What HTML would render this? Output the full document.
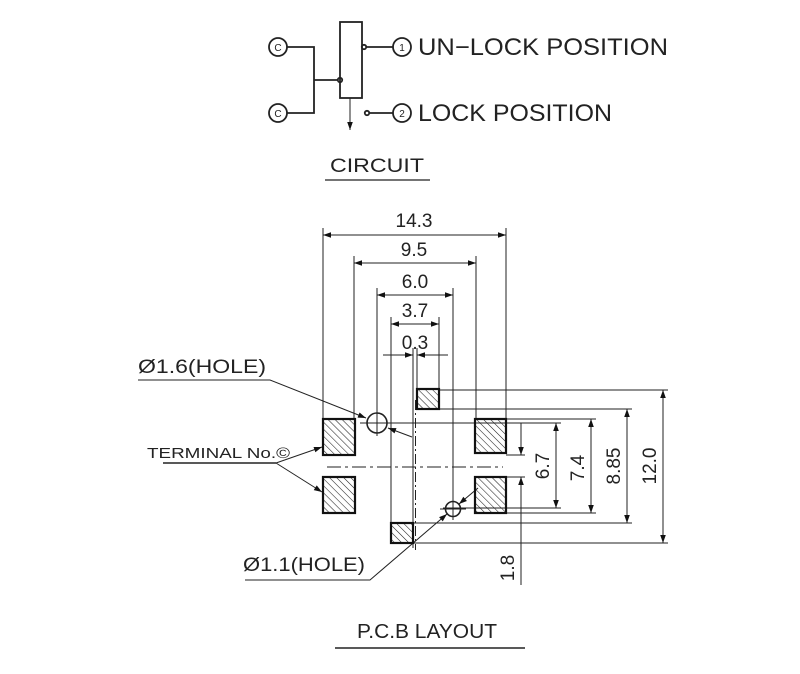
<!DOCTYPE html>
<html><head><meta charset="utf-8"><style>
html,body{margin:0;padding:0;background:#fff;}
svg{display:block;}
text{font-family:"Liberation Sans",sans-serif;fill:#222;}
</style></head><body>
<svg width="800" height="674" viewBox="0 0 800 674" xmlns="http://www.w3.org/2000/svg">
<defs>
<marker id="a" viewBox="0 0 10 10" refX="10" refY="5" markerWidth="12" markerHeight="8" markerUnits="userSpaceOnUse" orient="auto-start-reverse"><path d="M0,1.5 L10,5 L0,8.5 z" fill="#111"/></marker>
<pattern id="h" patternUnits="userSpaceOnUse" width="5" height="5" patternTransform="rotate(-45)"><line x1="0" y1="0" x2="0" y2="5" stroke="#222" stroke-width="1.1"/></pattern>
</defs>
<g stroke="#222" stroke-width="1.8" fill="none">
<!-- circuit -->
<circle cx="278" cy="47" r="9"/><circle cx="278" cy="113" r="9"/>
<polyline points="287,47 314,47 314,113 287,113"/>
<line x1="314" y1="80" x2="338" y2="80"/>
<circle cx="340" cy="80" r="2.2"/>
<rect x="340" y="22" width="22" height="76"/>
<circle cx="364" cy="47" r="2.2"/>
<line x1="366" y1="47" x2="393" y2="47"/>
<circle cx="402" cy="47" r="9"/>
<circle cx="367" cy="113" r="2.2"/>
<line x1="369" y1="113" x2="393" y2="113"/>
<circle cx="402" cy="113" r="9"/>
<line x1="350" y1="98" x2="350" y2="130" stroke-width="1" marker-end="url(#a)"/>
<line x1="325" y1="180" x2="430" y2="180" stroke-width="1.2"/>
<line x1="335" y1="648" x2="525" y2="648" stroke-width="1.5"/>
</g>
<g font-family="Liberation Serif" font-size="10" text-anchor="middle">
<text x="278" y="51">C</text><text x="278" y="117">C</text>
<text x="402" y="51">1</text><text x="402" y="117">2</text>
</g>
<text x="418" y="55" font-size="24" textLength="250" lengthAdjust="spacingAndGlyphs">UN−LOCK  POSITION</text>
<text x="418" y="121" font-size="24" textLength="194" lengthAdjust="spacingAndGlyphs">LOCK  POSITION</text>
<text x="330" y="172" font-size="19" textLength="94" lengthAdjust="spacingAndGlyphs">CIRCUIT</text>
<text x="357" y="638" font-size="20" textLength="140" lengthAdjust="spacingAndGlyphs">P.C.B LAYOUT</text>

<!-- pcb -->
<g stroke="#222" stroke-width="1">
<line x1="323" y1="228" x2="323" y2="419"/><line x1="506" y1="228" x2="506" y2="419"/>
<line x1="354" y1="256" x2="354" y2="419"/><line x1="476" y1="256" x2="476" y2="419"/>
<line x1="377" y1="288" x2="377" y2="436"/><line x1="453" y1="288" x2="453" y2="520"/>
<line x1="391" y1="317" x2="391" y2="523"/><line x1="439" y1="317" x2="439" y2="389"/>
<line x1="413" y1="348" x2="413" y2="548"/><line x1="417" y1="348" x2="417" y2="389"/>
<line x1="415.5" y1="400" x2="415.5" y2="550" stroke-dasharray="10,3,2,3"/>
<line x1="323" y1="235" x2="506" y2="235" marker-start="url(#a)" marker-end="url(#a)"/>
<line x1="354" y1="263" x2="476" y2="263" marker-start="url(#a)" marker-end="url(#a)"/>
<line x1="377" y1="295" x2="453" y2="295" marker-start="url(#a)" marker-end="url(#a)"/>
<line x1="391" y1="324" x2="439" y2="324" marker-start="url(#a)" marker-end="url(#a)"/>
<line x1="383" y1="355" x2="413" y2="355" marker-end="url(#a)"/>
<line x1="448" y1="355" x2="417" y2="355" marker-end="url(#a)"/>
<line x1="439" y1="390" x2="668" y2="390"/>
<line x1="439" y1="409" x2="632" y2="409"/>
<line x1="506" y1="419" x2="596" y2="419"/>
<line x1="367" y1="423" x2="561" y2="423"/>
<line x1="443" y1="508" x2="561" y2="508"/>
<line x1="506" y1="513" x2="596" y2="513"/>
<line x1="413" y1="523" x2="632" y2="523"/>
<line x1="413" y1="543" x2="668" y2="543"/>
<line x1="506" y1="455" x2="525" y2="455"/><line x1="506" y1="477" x2="525" y2="477"/>
<line x1="663" y1="390" x2="663" y2="543" marker-start="url(#a)" marker-end="url(#a)"/>
<line x1="627" y1="409" x2="627" y2="523" marker-start="url(#a)" marker-end="url(#a)"/>
<line x1="591" y1="419" x2="591" y2="513" marker-start="url(#a)" marker-end="url(#a)"/>
<line x1="556" y1="423" x2="556" y2="508" marker-start="url(#a)" marker-end="url(#a)"/>
<line x1="521" y1="423" x2="521" y2="455" marker-end="url(#a)"/>
<line x1="521" y1="585" x2="521" y2="477" marker-end="url(#a)"/>
<line x1="327" y1="467" x2="503" y2="467" stroke-dasharray="14,4,3,4"/>
<circle cx="377" cy="423" r="10" fill="none" stroke-width="1.6"/>
<line x1="360" y1="423" x2="394" y2="423"/>
<circle cx="453" cy="509" r="7.5" fill="none" stroke-width="1.6"/>
<line x1="440" y1="509" x2="466" y2="509"/>
<polyline points="138,380 270,380 366,418" fill="none" marker-end="url(#a)"/>
<line x1="412" y1="437" x2="388" y2="428" marker-end="url(#a)"/>
<line x1="163" y1="463" x2="276" y2="463" stroke-width="1.6"/>
<line x1="276" y1="463" x2="322" y2="447" marker-end="url(#a)"/>
<line x1="276" y1="463" x2="322" y2="492" marker-end="url(#a)"/>
<polyline points="245,580 370,580 447,514" fill="none" marker-end="url(#a)"/>
<line x1="478" y1="488" x2="459" y2="504" marker-end="url(#a)"/>
</g>
<g stroke="#111" stroke-width="2.2" fill="url(#h)">
<rect x="323" y="419" width="32" height="36"/><rect x="323" y="477" width="32" height="36"/>
<rect x="475" y="419" width="31" height="34"/><rect x="475" y="477" width="31" height="36"/>
<rect x="417" y="389" width="22" height="20"/><rect x="391" y="523" width="22" height="20"/>
</g>
<g font-size="19">
<text x="414" y="227" text-anchor="middle">14.3</text>
<text x="414" y="256" text-anchor="middle">9.5</text>
<text x="415" y="288" text-anchor="middle">6.0</text>
<text x="415" y="317" text-anchor="middle">3.7</text>
<text x="415" y="349" text-anchor="middle">0.3</text>
<text transform="translate(549,466) rotate(-90)" text-anchor="middle">6.7</text>
<text transform="translate(584,468) rotate(-90)" text-anchor="middle">7.4</text>
<text transform="translate(620,466) rotate(-90)" text-anchor="middle">8.85</text>
<text transform="translate(656,466) rotate(-90)" text-anchor="middle">12.0</text>
<text transform="translate(514,568) rotate(-90)" text-anchor="middle">1.8</text>
<text x="138" y="373" textLength="128" lengthAdjust="spacingAndGlyphs">Ø1.6(HOLE)</text>
<text x="243" y="571" textLength="122" lengthAdjust="spacingAndGlyphs">Ø1.1(HOLE)</text>
</g>
<text x="147" y="458" font-size="15" textLength="143" lengthAdjust="spacingAndGlyphs">TERMINAL  No.©</text>
</svg>
</body></html>
